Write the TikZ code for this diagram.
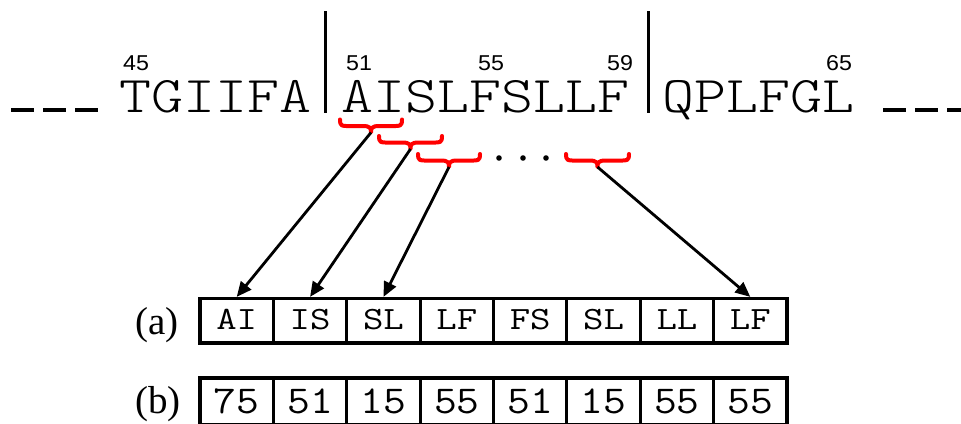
\documentclass[tikz,border=0pt]{standalone}
\usepackage{graphicx}
\usepackage{fontspec}
\setmainfont{Liberation Serif}
\newfontfamily\numfont{Liberation Sans}
\usetikzlibrary{arrows.meta}

% horizontally widened text
\newcommand\wide[2]{\scalebox{#1}[1]{#2}}
\newcommand\monoface{\ttfamily\fontseries{l}\selectfont}
\newcommand\cellface{\ttfamily\fontseries{m}\selectfont}

% downward curly brace: left x, right x, top y, name of its tip
\newcommand\curly[4]{%
  \pgfmathsetmacro\cmid{(#1+#2)/2}%
  \pgfmathsetmacro\yflat{#3+6.5}%
  \pgfmathsetmacro\ytip{#3+13}%
  \draw[brc] (#1,#3) .. controls (#1,\yflat+0.5) and (#1+2,\yflat) .. (#1+9,\yflat)
    -- (\cmid-8,\yflat) .. controls (\cmid-1,\yflat) and (\cmid,\yflat+2) .. (\cmid,\ytip)
    .. controls (\cmid,\yflat+2) and (\cmid+1,\yflat) .. (\cmid+8,\yflat)
    -- (#2-9,\yflat) .. controls (#2-2,\yflat) and (#2,\yflat+0.5) .. (#2,#3);
  \coordinate (#4) at (\cmid,\ytip);%
}

\begin{document}
\begin{tikzpicture}[x=1pt,y=-1pt,
  seqtext/.style={inner sep=0pt, anchor=base west,
    font={\monoface\fontsize{51.5}{60}\selectfont}},
  resnum/.style={inner sep=0pt, anchor=base west,
    font={\numfont\fontsize{21.5}{24}\selectfont}},
  rowlabel/.style={inner sep=0pt, anchor=base west,
    font={\fontsize{39}{44}\selectfont}},
  sepbar/.style={line width=3pt},
  gapline/.style={line width=4pt, dash pattern=on 23pt off 9pt},
  brc/.style={red, line width=4pt, line cap=round, line join=round},
  arr/.style={line width=2.8pt, -{Triangle[length=15pt,width=13pt]}},
  cellA/.style={draw, line width=3.2pt, minimum width=73.375pt,
    minimum height=44.5pt, inner sep=0pt, text height=17.5pt, text depth=0pt,
    font={\cellface\fontsize{32.5}{36}\selectfont}},
  cellB/.style={draw, line width=3.2pt, minimum width=73.375pt,
    minimum height=47pt, inner sep=0pt, text height=23pt, text depth=0pt,
    font={\cellface\fontsize{39.5}{44}\selectfont}}]
\useasboundingbox (0,0) rectangle (961,423);
\clip (0,0) rectangle (961,423);

% sequence fragments and their separators
\draw[gapline] (11,110) -- (98,110);
\node[seqtext] (s1) at (119.3,112) {\wide{1.183}{TGIIFA}};
\draw[sepbar] (325.5,11) -- (325.5,113);
\node[seqtext] (s2) at (341.5,112) {\wide{1.183}{AISLFSLLF}};
\draw[sepbar] (648,11) -- (648,113);
\node[seqtext] (s3) at (662,112) {\wide{1.183}{QPLFGL}};
\draw[gapline] (883,110) -- (975,110);

% residue numbers
\node[resnum] (p45) at (123,70.5) {\wide{1.08}{45}};
\node[resnum] (p51) at (346,70.5) {\wide{1.08}{51}};
\node[resnum] (p55) at (478,70.5) {\wide{1.08}{55}};
\node[resnum] (p59) at (607,70.5) {\wide{1.08}{59}};
\node[resnum] (p65) at (826,70.5) {\wide{1.08}{65}};

% sliding window of residue pairs
\curly{340}{402}{119.5}{t1}
\curly{379}{442}{136}{t2}
\curly{418}{480}{154}{t3}
\curly{566}{629}{154}{t4}
\foreach \x in {499,523,546} \fill (\x,158) circle (2.8pt);

% pair row and code row
\node[rowlabel] (la) at (135,334) {(a)};
\node[rowlabel] (lb) at (135,413.5) {(b)};
\foreach \t [count=\i] in {AI,IS,SL,LF,FS,SL,LL,LF}
  \node[cellA] (a\i) at ({200+73.375*(\i-0.5)},320.75) {\wide{1.22}{\t}};
\foreach \t [count=\i] in {75,51,15,55,51,15,55,55}
  \node[cellB] (b\i) at ({200+73.375*(\i-0.5)},401.5) {\wide{1.12}{\t}};

% pairs mapped to their slots
\draw[arr] (t1) -- (a1.north);
\draw[arr] (t2) -- (a2.north);
\draw[arr] (t3) -- (a3.north);
\draw[arr] (t4) -- (a8.north);
\end{tikzpicture}
\end{document}
